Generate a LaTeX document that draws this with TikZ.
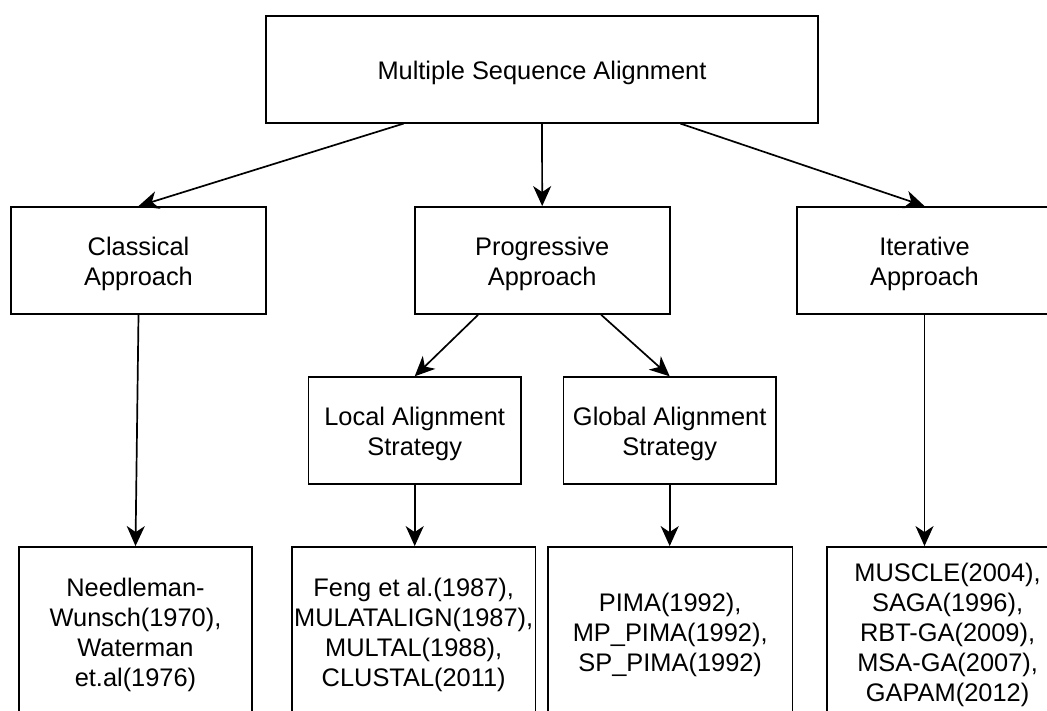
\documentclass[tikz,border=0pt]{standalone}
\usepackage{fontspec}
\setmainfont{Liberation Sans}
\usetikzlibrary{arrows.meta,calc}
% tall first-line strut so the text sits like a 30pt line box
\newcommand\firstline{\rule{0pt}{25.5pt}}
\begin{document}
\begin{tikzpicture}[x=1pt,y=-1pt,
  box/.style={draw=black, line width=1.8pt, fill=white, align=center,
    inner sep=0pt, font=\fontsize{25.4}{30}\selectfont},
  link/.style={line width=1.7pt, -{Stealth[length=20pt,width=18pt,inset=6pt]}}]

% canvas
\fill[white] (0,0) rectangle (1047,711);
\useasboundingbox (0,0) rectangle (1047,711);

% root
\node[box, minimum width=552pt, minimum height=107pt] (msa) at (542,69.2)
  {\firstline Multiple Sequence Alignment};

% approaches
\node[box, minimum width=255pt, minimum height=107pt] (cls) at (138.5,260.5)
  {\firstline Classical\\Approach};
\node[box, minimum width=255pt, minimum height=107pt] (prg) at (542.2,260.5)
  {\firstline Progressive\\Approach};
\node[box, minimum width=255pt, minimum height=107pt] (itr) at (924.5,260.5)
  {\firstline Iterative\\Approach};

% progressive strategies
\node[box, minimum width=212.5pt, minimum height=107pt] (loc) at (414.7,430.7)
  {\firstline Local Alignment\\Strategy};
\node[box, minimum width=212.5pt, minimum height=107pt] (glb) at (669.7,430.7)
  {\firstline Global Alignment\\Strategy};

% methods
\node[box, minimum width=233.7pt, minimum height=168pt] (clsb) at (135.5,631)
  {\firstline Needleman-\\Wunsch(1970),\\Waterman\\et.al(1976)};
\node[box, minimum width=243.7pt, minimum height=168pt] (locb) at (413.7,631)
  {\firstline Feng et al.(1987),\\MULATALIGN(1987),\\MULTAL(1988),\\CLUSTAL(2011)};
\node[box, minimum width=244.5pt, minimum height=168pt] (glbb) at (670.2,631)
  {\firstline PIMA(1992),\\MP\_PIMA(1992),\\SP\_PIMA(1992)};
\node[box, minimum width=242pt, minimum height=168pt] (itrb) at (947.6,631)
  {\firstline MUSCLE(2004),\\SAGA(1996),\\RBT-GA(2009),\\MSA-GA(2007),\\GAPAM(2012)};

% connectors
\draw[link] ($(msa.south west)!0.25!(msa.south east)$) -- (cls.north);
\draw[link] (msa.south) -- (prg.north);
\draw[link] ($(msa.south west)!0.75!(msa.south east)$) -- (itr.north);

\draw[link] ($(prg.south west)!0.25!(prg.south east)$) -- (loc.north);
\draw[link] ($(prg.south west)!0.73!(prg.south east)$) -- (glb.north);

\draw[link] (cls.south) -- (clsb.north);
\draw[link] (loc.south) -- (loc.south |- locb.north);
\draw[link] (glb.south) -- (glb.south |- glbb.north);
\draw[link] (itr.south) -- (itr.south |- itrb.north);
\end{tikzpicture}
\end{document}
